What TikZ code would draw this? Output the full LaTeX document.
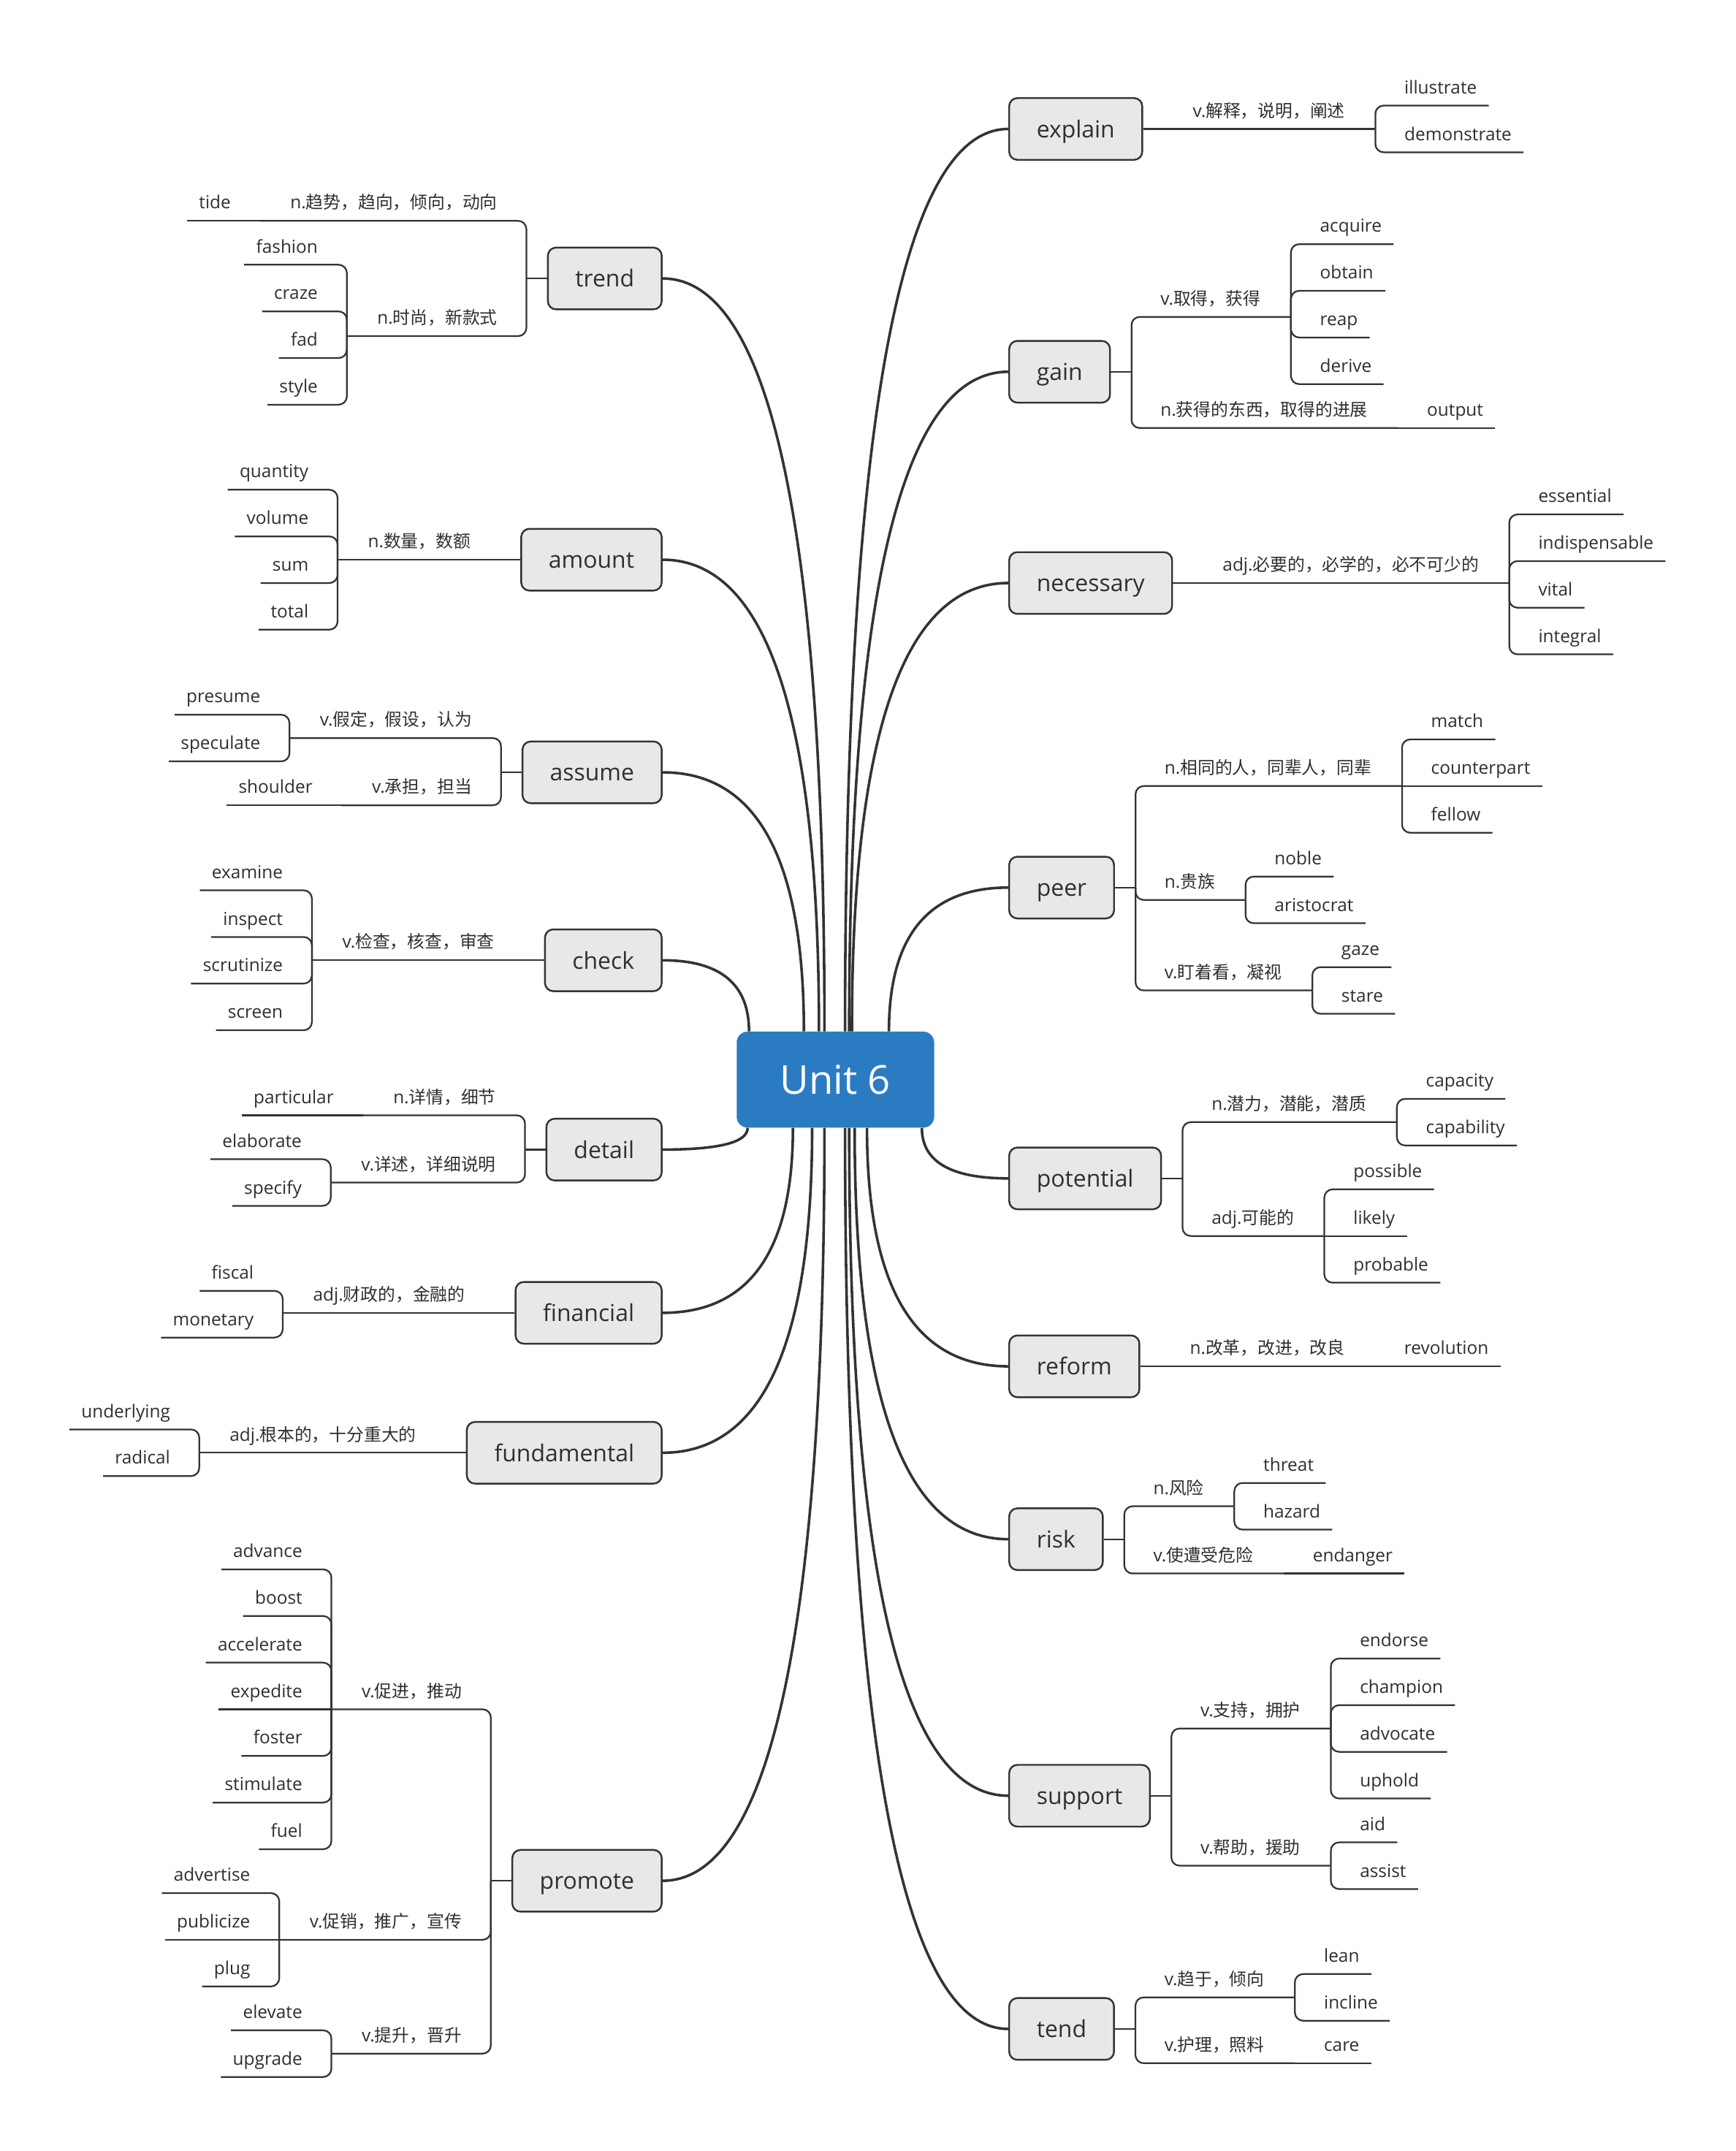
\documentclass[tikz,border=0pt]{standalone}
\usepackage{fontspec}
\setmainfont{Open Sans}
\newfontfamily\cjkfont[Scale=0.975]{Noto Sans CJK SC}
\newcommand\zh[1]{{\cjkfont #1}}
\usetikzlibrary{calc}
\pgfdeclarelayer{bg}
\pgfdeclarelayer{curves}
\pgfsetlayers{bg,curves,main}
\definecolor{linec}{HTML}{333333}
\definecolor{nodefill}{HTML}{E8E8E8}
\definecolor{rootc}{HTML}{2B7BC2}
\definecolor{textc}{HTML}{2F2F2F}
\tikzset{
 cv/.style={draw=linec, line width=1.9pt},
 br/.style={draw=linec, line width=1.2pt, rounded corners=6pt},
 mn/.style={draw=linec, fill=nodefill, line width=1.3pt, rounded corners=6pt, minimum height=45pt, inner xsep=20pt, inner ysep=0pt, text height=12.6pt, text depth=0pt, font=\fontsize{17}{20}\selectfont, text=textc},
 root/.style={fill=rootc, rounded corners=8pt, minimum width=144pt, minimum height=70pt, font=\fontsize{29}{34}\selectfont, text=white},
 tp/.style={inner xsep=0pt, inner ysep=8.5pt, text depth=0pt, font=\fontsize{13}{16}\selectfont, text=textc},
 rleaf/.style={tp, anchor=south west, execute at begin node={\hspace*{21pt}}, execute at end node={\hspace*{8.5pt}}},
 rpar/.style={tp, anchor=south west, execute at begin node={\hspace*{21pt}}, execute at end node={\hspace*{22pt}}},
 lleaf/.style={tp, anchor=south east, execute at begin node={\hspace*{8.5pt}}, execute at end node={\hspace*{21pt}}},
 lpar/.style={tp, anchor=south east, execute at begin node={\hspace*{22pt}}, execute at end node={\hspace*{21pt}}},
}
\newcommand\TopR[4]{\node[rpar] (#1) at (#2 |- 0,#3) {#4};}
\newcommand\LeafR[4]{\node[rleaf] (#1) at (#2 |- 0,#3) {#4};}
\newcommand\TopL[4]{\node[lpar] (#1) at (#2 |- 0,#3) {#4};}
\newcommand\LeafL[4]{\node[lleaf] (#1) at (#2 |- 0,#3) {#4};}
\newcommand\ConR[2]{\draw[br] (#1) |- (#2.south east);}
\newcommand\StrR[2]{\draw[br] (#1) -- (#2.south east);}
\newcommand\ConL[2]{\draw[br] (#1) |- (#2.south west);}
\newcommand\StrL[2]{\draw[br] (#1) -- (#2.south west);}
\newcommand\Curve[2]{\draw[cv] (#1) .. controls ($(#1)!0.6667!(#1 |- #2)$) and ($(#2)!0.6667!(#1 |- #2)$) .. (#2);}
\begin{document}
\begin{tikzpicture}[x=1pt,y=-1pt]
\begin{pgfonlayer}{bg}
\fill[white] (0,0) rectangle (1265,1568);
\end{pgfonlayer}
\useasboundingbox (0,0) rectangle (1265,1568);

\node[root] (unit) at (609,787) {Unit 6};

% ---------- main topics, right ----------
\node[mn,anchor=west] (explain) at (735,94) {explain};
\node[mn,anchor=west] (gain) at (735,271) {gain};
\node[mn,anchor=west] (necessary) at (735,425) {necessary};
\node[mn,anchor=west] (peer) at (735,647) {peer};
\node[mn,anchor=west] (potential) at (735,859) {potential};
\node[mn,anchor=west] (reform) at (735,996) {reform};
\node[mn,anchor=west] (risk) at (735,1122) {risk};
\node[mn,anchor=west] (support) at (735,1309) {support};
\node[mn,anchor=west] (tend) at (735,1479) {tend};
% ---------- main topics, left ----------
\node[mn,anchor=east] (trend) at (483,203) {trend};
\node[mn,anchor=east] (amount) at (483,408) {amount};
\node[mn,anchor=east] (assume) at (483,563) {assume};
\node[mn,anchor=east] (check) at (483,700) {check};
\node[mn,anchor=east] (detail) at (483,838) {detail};
\node[mn,anchor=east] (financial) at (483,957) {financial};
\node[mn,anchor=east] (fundamental) at (483,1059) {fundamental};
\node[mn,anchor=east] (promote) at (483,1371) {promote};

\foreach \n in {explain,gain,necessary,peer,potential,reform,risk,support,tend}
  {\coordinate (j\n) at ([xshift=15pt]\n.east);}
\foreach \n in {trend,amount,assume,check,detail,financial,fundamental,promote}
  {\coordinate (j\n) at ([xshift=-15pt]\n.west);}

% ---------- curves from the root ----------
\coordinate (cexplain) at ([xshift=7pt]unit.north);
\coordinate (cgain) at ([xshift=10pt]unit.north);
\coordinate (cnecessary) at ([xshift=12pt]unit.north);
\coordinate (cpeer) at ([xshift=39pt]unit.north);
\coordinate (ctrend) at ([xshift=-8pt]unit.north);
\coordinate (camount) at ([xshift=-12pt]unit.north);
\coordinate (cassume) at ([xshift=-23pt]unit.north);
\coordinate (ccheck) at ([xshift=-63pt]unit.north);
\coordinate (cpotential) at ([xshift=63pt]unit.south);
\coordinate (creform) at ([xshift=23pt]unit.south);
\coordinate (crisk) at ([xshift=14pt]unit.south);
\coordinate (csupport) at ([xshift=10pt]unit.south);
\coordinate (ctend) at ([xshift=7pt]unit.south);
\coordinate (cpromote) at ([xshift=-8pt]unit.south);
\coordinate (cfundamental) at ([xshift=-17pt]unit.south);
\coordinate (cfinancial) at ([xshift=-31pt]unit.south);
\coordinate (cdetail) at ([xshift=-64pt]unit.south);
\begin{pgfonlayer}{curves}
\foreach \n in {explain,gain,necessary,peer,potential,reform,risk,support,tend}
  {\Curve{c\n}{\n.west}}
\foreach \n in {trend,amount,assume,check,detail,financial,fundamental,promote}
  {\Curve{c\n}{\n.east}}
\end{pgfonlayer}

% ================= RIGHT SIDE =================
% explain
\TopR{ex1}{jexplain}{94}{v.\zh{解释，说明，阐述}}
\LeafR{ex1a}{ex1.south east}{77}{illustrate}
\LeafR{ex1b}{ex1.south east}{111}{demonstrate}
\draw[br] (explain.east) -- (ex1.south east);
\ConR{ex1.south east}{ex1a} \ConR{ex1.south east}{ex1b}

% gain
\TopR{ga1}{jgain}{231}{v.\zh{取得，获得}}
\LeafR{ga1a}{ga1.south east}{178}{acquire}
\LeafR{ga1b}{ga1.south east}{212}{obtain}
\LeafR{ga1c}{ga1.south east}{246}{reap}
\LeafR{ga1d}{ga1.south east}{280}{derive}
\TopR{ga2}{jgain}{312}{n.\zh{获得的东西，取得的进展}}
\LeafR{ga2a}{ga2.south east}{312}{output}
\draw[br] (gain.east) -- (jgain);
\ConR{jgain}{ga1} \ConR{jgain}{ga2}
\ConR{ga1.south east}{ga1a} \ConR{ga1.south east}{ga1b}
\ConR{ga1.south east}{ga1c} \ConR{ga1.south east}{ga1d}
\StrR{ga2.south east}{ga2a}

% necessary
\TopR{ne1}{jnecessary}{425}{adj.\zh{必要的，必学的，必不可少的}}
\LeafR{ne1a}{ne1.south east}{375}{essential}
\LeafR{ne1b}{ne1.south east}{409}{indispensable}
\LeafR{ne1c}{ne1.south east}{443}{vital}
\LeafR{ne1d}{ne1.south east}{477}{integral}
\draw[br] (necessary.east) -- (ne1.south east);
\ConR{ne1.south east}{ne1a} \ConR{ne1.south east}{ne1b}
\ConR{ne1.south east}{ne1c} \ConR{ne1.south east}{ne1d}

% peer
\TopR{pe1}{jpeer}{573}{n.\zh{相同的人，同辈人，同辈}}
\LeafR{pe1a}{pe1.south east}{539}{match}
\LeafR{pe1b}{pe1.south east}{573}{counterpart}
\LeafR{pe1c}{pe1.south east}{607}{fellow}
\TopR{pe2}{jpeer}{656}{n.\zh{贵族}}
\LeafR{pe2a}{pe2.south east}{639}{noble}
\LeafR{pe2b}{pe2.south east}{673}{aristocrat}
\TopR{pe3}{jpeer}{722}{v.\zh{盯着看，凝视}}
\LeafR{pe3a}{pe3.south east}{705}{gaze}
\LeafR{pe3b}{pe3.south east}{739}{stare}
\draw[br] (peer.east) -- (jpeer);
\ConR{jpeer}{pe1} \ConR{jpeer}{pe2} \ConR{jpeer}{pe3}
\ConR{pe1.south east}{pe1a} \StrR{pe1.south east}{pe1b} \ConR{pe1.south east}{pe1c}
\ConR{pe2.south east}{pe2a} \ConR{pe2.south east}{pe2b}
\ConR{pe3.south east}{pe3a} \ConR{pe3.south east}{pe3b}

% potential
\TopR{po1}{jpotential}{818}{n.\zh{潜力，潜能，潜质}}
\LeafR{po1a}{po1.south east}{801}{capacity}
\LeafR{po1b}{po1.south east}{835}{capability}
\TopR{po2}{jpotential}{901}{adj.\zh{可能的}}
\LeafR{po2a}{po2.south east}{867}{possible}
\LeafR{po2b}{po2.south east}{901}{likely}
\LeafR{po2c}{po2.south east}{935}{probable}
\draw[br] (potential.east) -- (jpotential);
\ConR{jpotential}{po1} \ConR{jpotential}{po2}
\ConR{po1.south east}{po1a} \ConR{po1.south east}{po1b}
\ConR{po2.south east}{po2a} \StrR{po2.south east}{po2b} \ConR{po2.south east}{po2c}

% reform
\TopR{re1}{jreform}{996}{n.\zh{改革，改进，改良}}
\LeafR{re1a}{re1.south east}{996}{revolution}
\draw[br] (reform.east) -- (re1.south east);
\StrR{re1.south east}{re1a}

% risk
\TopR{ri1}{jrisk}{1098}{n.\zh{风险}}
\LeafR{ri1a}{ri1.south east}{1081}{threat}
\LeafR{ri1b}{ri1.south east}{1115}{hazard}
\TopR{ri2}{jrisk}{1147}{v.\zh{使遭受危险}}
\LeafR{ri2a}{ri2.south east}{1147}{endanger}
\draw[br] (risk.east) -- (jrisk);
\ConR{jrisk}{ri1} \ConR{jrisk}{ri2}
\ConR{ri1.south east}{ri1a} \ConR{ri1.south east}{ri1b}
\StrR{ri2.south east}{ri2a}

% support
\TopR{su1}{jsupport}{1260}{v.\zh{支持，拥护}}
\LeafR{su1a}{su1.south east}{1209}{endorse}
\LeafR{su1b}{su1.south east}{1243}{champion}
\LeafR{su1c}{su1.south east}{1277}{advocate}
\LeafR{su1d}{su1.south east}{1311}{uphold}
\TopR{su2}{jsupport}{1360}{v.\zh{帮助，援助}}
\LeafR{su2a}{su2.south east}{1343}{aid}
\LeafR{su2b}{su2.south east}{1377}{assist}
\draw[br] (support.east) -- (jsupport);
\ConR{jsupport}{su1} \ConR{jsupport}{su2}
\ConR{su1.south east}{su1a} \ConR{su1.south east}{su1b}
\ConR{su1.south east}{su1c} \ConR{su1.south east}{su1d}
\ConR{su2.south east}{su2a} \ConR{su2.south east}{su2b}

% tend
\TopR{te1}{jtend}{1456}{v.\zh{趋于，倾向}}
\LeafR{te1a}{te1.south east}{1439}{lean}
\LeafR{te1b}{te1.south east}{1473}{incline}
\TopR{te2}{jtend}{1504}{v.\zh{护理，照料}}
\LeafR{te2a}{te2.south east}{1504}{care}
\draw[br] (tend.east) -- (jtend);
\ConR{jtend}{te1} \ConR{jtend}{te2}
\ConR{te1.south east}{te1a} \ConR{te1.south east}{te1b}
\StrR{te2.south east}{te2a}

% ================= LEFT SIDE =================
% trend
\TopL{tr1}{jtrend}{161}{n.\zh{趋势，趋向，倾向，动向}}
\LeafL{tr1a}{tr1.south west}{161}{tide}
\TopL{tr2}{jtrend}{245}{n.\zh{时尚，新款式}}
\LeafL{tr2a}{tr2.south west}{193}{fashion}
\LeafL{tr2b}{tr2.south west}{227}{craze}
\LeafL{tr2c}{tr2.south west}{261}{fad}
\LeafL{tr2d}{tr2.south west}{295}{style}
\draw[br] (trend.west) -- (jtrend);
\ConL{jtrend}{tr1} \ConL{jtrend}{tr2}
\StrL{tr1.south west}{tr1a}
\ConL{tr2.south west}{tr2a} \ConL{tr2.south west}{tr2b}
\ConL{tr2.south west}{tr2c} \ConL{tr2.south west}{tr2d}

% amount
\TopL{am1}{jamount}{408}{n.\zh{数量，数额}}
\LeafL{am1a}{am1.south west}{357}{quantity}
\LeafL{am1b}{am1.south west}{391}{volume}
\LeafL{am1c}{am1.south west}{425}{sum}
\LeafL{am1d}{am1.south west}{459}{total}
\draw[br] (amount.west) -- (am1.south west);
\ConL{am1.south west}{am1a} \ConL{am1.south west}{am1b}
\ConL{am1.south west}{am1c} \ConL{am1.south west}{am1d}

% assume
\TopL{as1}{jassume}{538}{v.\zh{假定，假设，认为}}
\LeafL{as1a}{as1.south west}{521}{presume}
\LeafL{as1b}{as1.south west}{555}{speculate}
\TopL{as2}{jassume}{587}{v.\zh{承担，担当}}
\LeafL{as2a}{as2.south west}{587}{shoulder}
\draw[br] (assume.west) -- (jassume);
\ConL{jassume}{as1} \ConL{jassume}{as2}
\ConL{as1.south west}{as1a} \ConL{as1.south west}{as1b}
\StrL{as2.south west}{as2a}

% check
\TopL{ch1}{jcheck}{700}{v.\zh{检查，核查，审查}}
\LeafL{ch1a}{ch1.south west}{649}{examine}
\LeafL{ch1b}{ch1.south west}{683}{inspect}
\LeafL{ch1c}{ch1.south west}{717}{scrutinize}
\LeafL{ch1d}{ch1.south west}{751}{screen}
\draw[br] (check.west) -- (ch1.south west);
\ConL{ch1.south west}{ch1a} \ConL{ch1.south west}{ch1b}
\ConL{ch1.south west}{ch1c} \ConL{ch1.south west}{ch1d}

% detail
\TopL{de1}{jdetail}{813}{n.\zh{详情，细节}}
\LeafL{de1a}{de1.south west}{813}{particular}
\TopL{de2}{jdetail}{862}{v.\zh{详述，详细说明}}
\LeafL{de2a}{de2.south west}{845}{elaborate}
\LeafL{de2b}{de2.south west}{879}{specify}
\draw[br] (detail.west) -- (jdetail);
\ConL{jdetail}{de1} \ConL{jdetail}{de2}
\StrL{de1.south west}{de1a}
\ConL{de2.south west}{de2a} \ConL{de2.south west}{de2b}

% financial
\TopL{fi1}{jfinancial}{957}{adj.\zh{财政的，金融的}}
\LeafL{fi1a}{fi1.south west}{941}{fiscal}
\LeafL{fi1b}{fi1.south west}{975}{monetary}
\draw[br] (financial.west) -- (fi1.south west);
\ConL{fi1.south west}{fi1a} \ConL{fi1.south west}{fi1b}

% fundamental
\TopL{fu1}{jfundamental}{1059}{adj.\zh{根本的，十分重大的}}
\LeafL{fu1a}{fu1.south west}{1042}{underlying}
\LeafL{fu1b}{fu1.south west}{1076}{radical}
\draw[br] (fundamental.west) -- (fu1.south west);
\ConL{fu1.south west}{fu1a} \ConL{fu1.south west}{fu1b}

% promote
\TopL{pr1}{jpromote}{1246}{v.\zh{促进，推动}}
\LeafL{pr1a}{pr1.south west}{1144}{advance}
\LeafL{pr1b}{pr1.south west}{1178}{boost}
\LeafL{pr1c}{pr1.south west}{1212}{accelerate}
\LeafL{pr1d}{pr1.south west}{1246}{expedite}
\LeafL{pr1e}{pr1.south west}{1280}{foster}
\LeafL{pr1f}{pr1.south west}{1314}{stimulate}
\LeafL{pr1g}{pr1.south west}{1348}{fuel}
\TopL{pr2}{jpromote}{1414}{v.\zh{促销，推广，宣传}}
\LeafL{pr2a}{pr2.south west}{1380}{advertise}
\LeafL{pr2b}{pr2.south west}{1414}{publicize}
\LeafL{pr2c}{pr2.south west}{1448}{plug}
\TopL{pr3}{jpromote}{1497}{v.\zh{提升，晋升}}
\LeafL{pr3a}{pr3.south west}{1480}{elevate}
\LeafL{pr3b}{pr3.south west}{1514}{upgrade}
\draw[br] (promote.west) -- (jpromote);
\ConL{jpromote}{pr1} \ConL{jpromote}{pr2} \ConL{jpromote}{pr3}
\ConL{pr1.south west}{pr1a} \ConL{pr1.south west}{pr1b} \ConL{pr1.south west}{pr1c}
\StrL{pr1.south west}{pr1d}
\ConL{pr1.south west}{pr1e} \ConL{pr1.south west}{pr1f} \ConL{pr1.south west}{pr1g}
\ConL{pr2.south west}{pr2a} \StrL{pr2.south west}{pr2b} \ConL{pr2.south west}{pr2c}
\ConL{pr3.south west}{pr3a} \ConL{pr3.south west}{pr3b}
\end{tikzpicture}
\end{document}
